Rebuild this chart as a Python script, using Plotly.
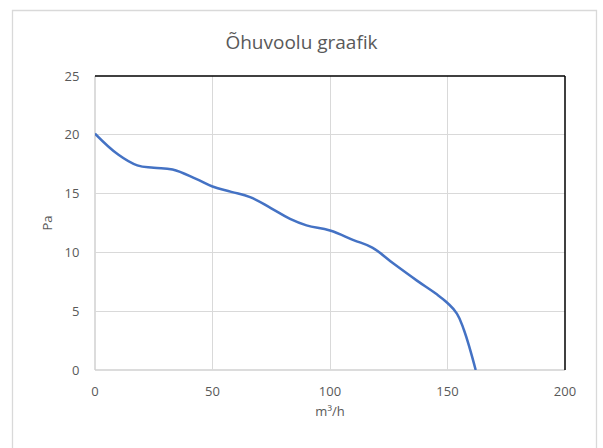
import plotly.graph_objects as go

# Data
airflow_m3h = [0, 10, 18, 25, 33, 43, 50, 58, 66, 75, 83, 90, 100, 110, 118, 127, 137, 145, 150, 154, 157, 162]
pressure_pa = [20.1, 18.3, 17.4, 17.2, 17.05, 16.25, 15.6, 15.15, 14.7, 13.75, 12.85, 12.3, 11.86, 11.05, 10.4, 9.05, 7.6, 6.5, 5.7, 4.8, 3.4, 0.0]
x_ticks = [0, 50, 100, 150, 200]
y_ticks = [0, 5, 10, 15, 20, 25]

title_text = "Õhuvoolu graafik"
x_title = "m³/h"
y_title = "Pa"

W, H = 603, 448
L, R, T, B = 95, 565, 76, 370
pw, ph = R - L, B - T

def px(xp):
    return (xp - L) / pw

def py(yp):
    return (B - yp) / ph

fig = go.Figure()
fig.add_trace(go.Scatter(
    x=airflow_m3h, y=pressure_pa, mode="lines",
    line=dict(color="#4472C4", width=2.5, shape="spline", smoothing=1.2),
    showlegend=False, hoverinfo="skip",
))

grid = "#d9d9d9"
font_col = "#595959"

fig.update_layout(
    width=W, height=H,
    margin=dict(l=L, r=W - R, t=T, b=H - B),
    paper_bgcolor="white", plot_bgcolor="white",
    font=dict(family="Open Sans, Liberation Sans, sans-serif", color=font_col, size=13),
    title=dict(text=title_text, x=0.5, xanchor="center", y=1 - 42 / H, yanchor="middle",
               font=dict(size=19, color=font_col)),
    xaxis=dict(range=[0, 200], tickvals=x_ticks, showgrid=True, gridcolor=grid, gridwidth=1.3,
               zeroline=False, showline=False, ticks="outside", ticklen=9,
               tickcolor="rgba(0,0,0,0)", tickfont=dict(size=13, color=font_col),
               title=dict(text=x_title, font=dict(size=13, color=font_col), standoff=8),
               fixedrange=True),
    yaxis=dict(range=[0, 25], tickvals=y_ticks, showgrid=True, gridcolor=grid, gridwidth=1.3,
               zeroline=False, showline=False, ticks="outside", ticklen=12,
               tickcolor="rgba(0,0,0,0)", tickfont=dict(size=13, color=font_col),
               title=dict(text=y_title, font=dict(size=13, color=font_col), standoff=8),
               fixedrange=True),
    shapes=[
        # outer chart border
        dict(type="rect", xref="paper", yref="paper",
             x0=px(12.5), x1=px(596.5), y0=py(470), y1=py(10.5),
             line=dict(color="#d9d9d9", width=1.3), fillcolor="rgba(0,0,0,0)", layer="below"),
        # left and bottom gray borders
        dict(type="line", xref="paper", yref="paper", x0=0, x1=0, y0=0, y1=1,
             line=dict(color="#d0d0d0", width=1.5), layer="below"),
        dict(type="line", xref="paper", yref="paper", x0=0, x1=1, y0=0, y1=0,
             line=dict(color="#d0d0d0", width=1.5), layer="below"),
        # top and right black border of plot area
        dict(type="line", xref="paper", yref="paper", x0=0, x1=1, y0=1, y1=1,
             line=dict(color="black", width=1.5)),
        dict(type="line", xref="paper", yref="paper", x0=1, x1=1, y0=0, y1=1,
             line=dict(color="black", width=1.5)),
    ],
)

fig.write_html("out.html", config={"displayModeBar": False},
               post_script="document.body.style.margin='0';")
